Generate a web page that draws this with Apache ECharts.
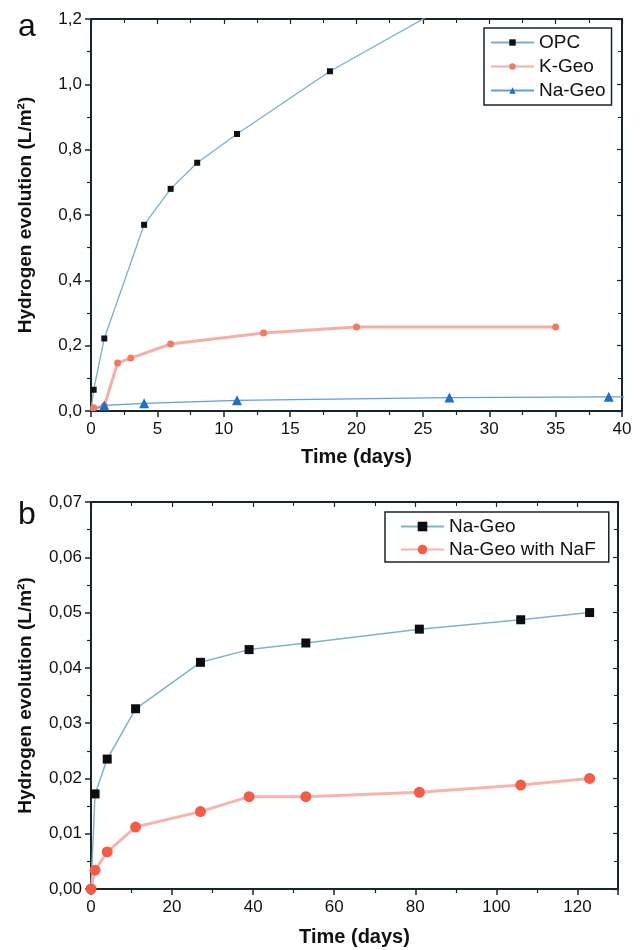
<!DOCTYPE html>
<html>
<head>
<meta charset="utf-8">
<script src="https://cdn.jsdelivr.net/npm/echarts@6/dist/echarts.min.js"></script>
<style>
html,body{margin:0;padding:0;background:#fff;}
#a{position:absolute;left:0;top:0;width:642px;height:475px;}
#b{position:absolute;left:0;top:475px;width:642px;height:475px;}
</style>
</head>
<body>
<div id="a"></div>
<div id="b"></div>
<script>
// ---- Panel a data ----
const opcDays = [0, 0.2, 1, 4, 6, 8, 11, 18, 27];
const opcH = [0, 0.065, 0.222, 0.57, 0.68, 0.76, 0.848, 1.04, 1.245];
const kGeoDays = [0.2, 1, 2, 3, 6, 13, 20, 35];
const kGeoH = [0.01, 0.015, 0.147, 0.162, 0.205, 0.239, 0.257, 0.257];
const naGeoDaysA = [0, 1, 4, 11, 27, 39, 53];
const naGeoHA = [0, 0.0172, 0.0235, 0.0326, 0.041, 0.0433, 0.0445];
const xTicksA = {min: 0, max: 40, interval: 5};
const yTicksA = {min: 0, max: 1.2, interval: 0.2};

// ---- Panel b data ----
const naGeoDaysB = [0, 1, 4, 11, 27, 39, 53, 81, 106, 123];
const naGeoHB = [0, 0.0172, 0.0235, 0.0326, 0.041, 0.0433, 0.0445, 0.047, 0.0487, 0.05];
const nafDays = [0, 1, 4, 11, 27, 39, 53, 81, 106, 123];
const nafH = [0, 0.0034, 0.0067, 0.0112, 0.014, 0.0167, 0.0167, 0.0175, 0.0188, 0.02];
const xTicksB = {min: 0, max: 130, interval: 20};
const yTicksB = {min: 0, max: 0.07, interval: 0.01};

const FONT = 'Liberation Sans';
const AX = '#18262b';

// build [x, y] points; optionally hide the symbol of the origin point
function pairs(xs, ys, hideOrigin) {
  return xs.map((x, i) => (hideOrigin && i === 0)
    ? {value: [x, ys[i]], symbol: 'none'}
    : [x, ys[i]]);
}

function axes(xt, yt, yDec, xGap, yGap) {
  const common = {
    axisLine: {show: true, onZero: false, lineStyle: {color: AX, width: 2}},
    splitLine: {show: false},
  };
  const xAxis = [
    Object.assign({}, common, {
      type: 'value', position: 'bottom', min: xt.min, max: xt.max, interval: xt.interval,
      name: 'Time (days)', nameLocation: 'middle', nameGap: xGap,
      nameTextStyle: {fontFamily: FONT, fontSize: 20, fontWeight: 'bold', color: '#111'},
      axisTick: {show: true, inside: false, length: 6, lineStyle: {color: AX, width: 1.5}},
      minorTick: {show: true, splitNumber: 2, length: 4, lineStyle: {color: AX, width: 1.2}},
      axisLabel: {fontFamily: FONT, fontSize: 17, color: '#111', margin: 10,
        showMaxLabel: xt.max % xt.interval === 0, formatter: v => String(v)}
    }),
    Object.assign({}, common, {
      type: 'value', position: 'top', min: xt.min, max: xt.max, interval: xt.interval,
      axisTick: {show: true, inside: true, length: 5, lineStyle: {color: AX, width: 1.2}},
      minorTick: {show: true, splitNumber: 2, length: 4, lineStyle: {color: AX, width: 1}},
      axisLabel: {show: false}
    })
  ];
  const yAxis = [
    Object.assign({}, common, {
      type: 'value', position: 'left', min: yt.min, max: yt.max, interval: yt.interval,
      name: 'Hydrogen evolution (L/m²)', nameLocation: 'middle', nameGap: yGap, nameRotate: 90,
      nameTextStyle: {fontFamily: FONT, fontSize: 19, fontWeight: 'bold', color: '#111'},
      axisTick: {show: true, inside: false, length: 6, lineStyle: {color: AX, width: 1.5}},
      minorTick: {show: true, splitNumber: 2, length: 4, lineStyle: {color: AX, width: 1.2}},
      axisLabel: {fontFamily: FONT, fontSize: 17, color: '#111', margin: 9,
        formatter: v => v.toFixed(yDec).replace('.', ',')}
    }),
    Object.assign({}, common, {
      type: 'value', position: 'right', min: yt.min, max: yt.max, interval: yt.interval,
      axisTick: {show: true, inside: true, length: 5, lineStyle: {color: AX, width: 1.2}},
      minorTick: {show: true, splitNumber: 2, length: 4, lineStyle: {color: AX, width: 1}},
      axisLabel: {show: false}
    })
  ];
  return {xAxis, yAxis};
}

// ---- Chart a ----
const chartA = echarts.init(document.getElementById('a'), null, {renderer: 'canvas'});
const axA = axes(xTicksA, yTicksA, 1, 36, 56);
chartA.setOption({
  animation: false,
  backgroundColor: '#fff',
  title: {text: 'a', left: 13, top: 6, textStyle: {fontFamily: FONT, fontSize: 32, fontWeight: 'normal', color: '#111'}},
  grid: {left: 91, right: 20, top: 19, height: 392, outerBoundsMode: 'none'},
  xAxis: axA.xAxis,
  yAxis: axA.yAxis,
  legend: {
    left: 484, top: 28, orient: 'vertical', itemWidth: 43, itemHeight: 8, itemGap: 5,
    padding: [5, 6, 5, 6], borderColor: AX, borderWidth: 1.5, backgroundColor: '#fff',
    textStyle: {fontFamily: FONT, fontSize: 19, color: '#111'},
    data: ['OPC', 'K-Geo', 'Na-Geo']
  },
  series: [
    {name: 'OPC', type: 'line', data: pairs(opcDays, opcH, true), clip: true,
     symbol: 'rect', symbolSize: 6,
     itemStyle: {color: '#111'}, lineStyle: {color: '#79b0c9', width: 1.3}},
    {name: 'K-Geo', type: 'line', data: pairs(kGeoDays, kGeoH, false), clip: true,
     symbol: 'circle', symbolSize: 7,
     itemStyle: {color: '#f07a62'}, lineStyle: {color: '#f6aea8', width: 3}},
    {name: 'Na-Geo', type: 'line', data: pairs(naGeoDaysA, naGeoHA, true), clip: true,
     symbol: 'triangle', symbolSize: 10,
     itemStyle: {color: '#1f6fc2'}, lineStyle: {color: '#5f9fdc', width: 1.3}}
  ]
});

// ---- Chart b ----
const chartB = echarts.init(document.getElementById('b'), null, {renderer: 'canvas'});
const axB = axes(xTicksB, yTicksB, 2, 38, 56);
chartB.setOption({
  animation: false,
  backgroundColor: '#fff',
  title: {text: 'b', left: 13, top: 19, textStyle: {fontFamily: FONT, fontSize: 32, fontWeight: 'normal', color: '#111'}},
  grid: {left: 91, right: 24, top: 27, height: 387, outerBoundsMode: 'none'},
  xAxis: axB.xAxis,
  yAxis: axB.yAxis,
  legend: {
    left: 385, top: 37, orient: 'vertical', itemWidth: 43, itemHeight: 12, itemGap: 4,
    padding: [5, 13, 3, 15], borderColor: AX, borderWidth: 1.5, backgroundColor: '#fff',
    textStyle: {fontFamily: FONT, fontSize: 19, color: '#111'},
    data: ['Na-Geo', 'Na-Geo with NaF']
  },
  series: [
    {name: 'Na-Geo', type: 'line', data: pairs(naGeoDaysB, naGeoHB, true), clip: true,
     symbol: 'rect', symbolSize: 9,
     itemStyle: {color: '#0d0d0d'}, lineStyle: {color: '#7fb3cc', width: 1.5}},
    {name: 'Na-Geo with NaF', type: 'line', data: pairs(nafDays, nafH, false), clip: true,
     symbol: 'circle', symbolSize: 11,
     itemStyle: {color: '#f25d47'}, lineStyle: {color: '#f7b4ae', width: 3}}
  ]
});
</script>
</body>
</html>
